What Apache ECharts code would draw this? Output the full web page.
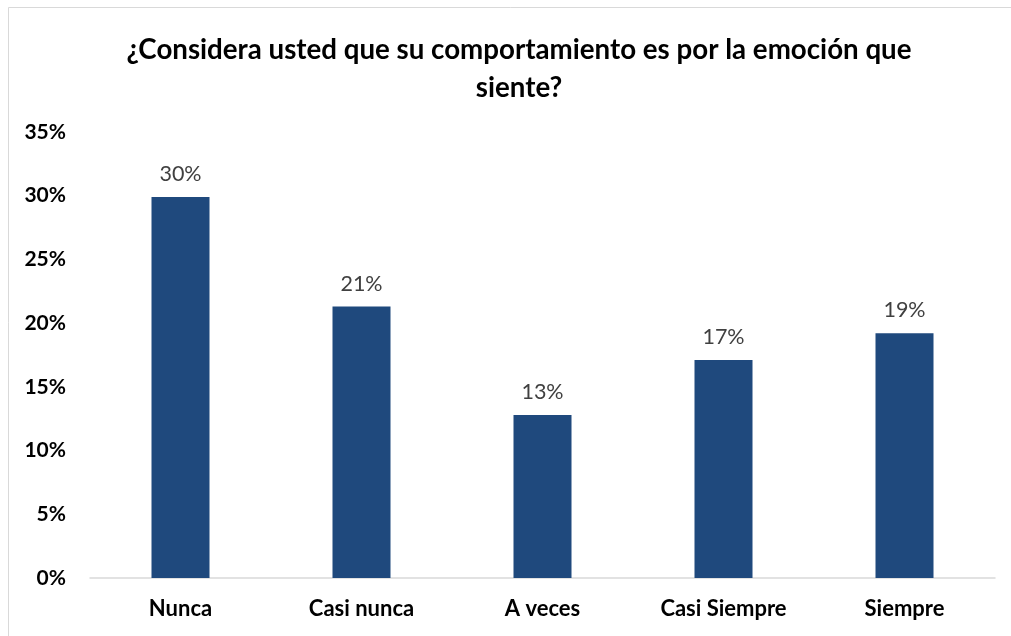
<!DOCTYPE html>
<html>
<head>
<meta charset="utf-8">
<script src="https://cdn.jsdelivr.net/npm/echarts@6/dist/echarts.min.js"></script>
<style>
  html, body { margin: 0; padding: 0; background: #fff; }
  #chart { width: 1011px; height: 636px; }
</style>
</head>
<body>
<div id="chart"></div>
<script>
const categories = ['Nunca', 'Casi nunca', 'A veces', 'Casi Siempre', 'Siempre']
const values = [29.9, 21.3, 12.8, 17.1, 19.2]
const yTicks = [0, 5, 10, 15, 20, 25, 30, 35]

const chart = echarts.init(document.getElementById('chart'))
const font = 'Lato, "Open Sans", sans-serif'

chart.setOption({
  backgroundColor: '#fff',
  animation: false,
  graphic: [
    {
      type: 'rect',
      shape: { x: 8.5, y: 7.5, width: 1010, height: 640 },
      style: { fill: 'none', stroke: '#d9d9d9', lineWidth: 1 }
    }
  ],
  title: {
    text: '¿Considera usted que su comportamiento es por la emoción que\nsiente?',
    left: 514,
    textAlign: 'center',
    top: 26,
    textStyle: {
      fontFamily: font,
      fontSize: 27.7,
      fontWeight: 'bold',
      color: '#000',
      lineHeight: 38
    }
  },
  grid: { left: 90, right: 16, top: 132, bottom: 58, containLabel: false },
  xAxis: {
    type: 'category',
    data: categories,
    axisTick: { show: false },
    axisLine: { lineStyle: { color: '#d9d9d9', width: 1.5 } },
    axisLabel: {
      margin: 20,
      fontFamily: font,
      fontSize: 22,
      fontWeight: 'bold',
      color: '#000'
    }
  },
  yAxis: {
    type: 'value',
    min: yTicks[0],
    max: yTicks[yTicks.length - 1],
    interval: 5,
    splitLine: { show: false },
    axisLine: { show: false },
    axisTick: { show: false },
    axisLabel: {
      margin: 24,
      fontFamily: font,
      fontSize: 21,
      fontWeight: 'bold',
      color: '#000',
      formatter: v => v + '%'
    }
  },
  series: [
    {
      type: 'bar',
      data: values,
      barWidth: 58,
      itemStyle: { color: '#1f497d' },
      label: {
        show: true,
        position: 'top',
        distance: 12,
        fontFamily: font,
        fontSize: 21.5,
        color: '#404040',
        formatter: p => Math.round(p.value) + '%'
      }
    }
  ]
})
</script>
</body>
</html>
